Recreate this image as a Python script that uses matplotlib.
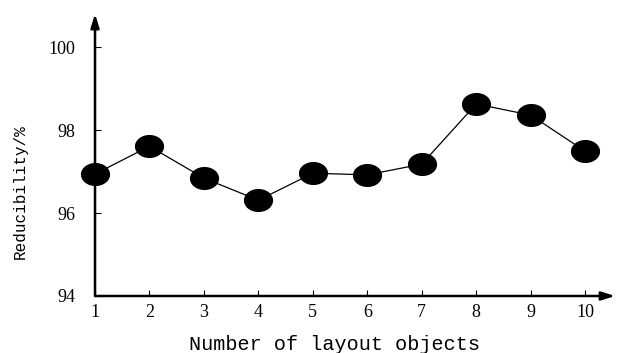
import numpy as np
import matplotlib.pyplot as plt
from matplotlib.path import Path

# DATA
layout_objects = [1, 2, 3, 4, 5, 6, 7, 8, 9, 10]
reducibility = [96.94, 97.61, 96.84, 96.31, 96.96, 96.92, 97.18, 98.63, 98.36, 97.49]
y_ticks = [94, 96, 98, 100]

# elliptical marker (wider than tall)
t = np.linspace(0, 2 * np.pi, 60)
ellipse = Path(np.column_stack([np.cos(t), 0.78 * np.sin(t)]), closed=True)

fig = plt.figure(figsize=(6.17, 3.53), dpi=100)
ax = fig.add_axes([0.154, 0.1615, 0.843, 0.799])

ax.plot(layout_objects, reducibility, color="black", lw=0.9,
        marker=ellipse, markersize=20, markerfacecolor="black",
        markeredgecolor="black", clip_on=False, zorder=3)

ax.set_xlim(1, 10.55)
ax.set_ylim(94, 100.8)

for s in ax.spines.values():
    s.set_visible(False)

# axes with arrows
ax.annotate("", xy=(1.0, 0), xytext=(0, 0), xycoords="axes fraction",
            arrowprops=dict(arrowstyle="-|>,head_length=0.8,head_width=0.25",
                            color="black", lw=1.8, shrinkA=0, shrinkB=0))
ax.annotate("", xy=(0, 1.0), xytext=(0, 0), xycoords="axes fraction",
            arrowprops=dict(arrowstyle="-|>,head_length=0.8,head_width=0.25",
                            color="black", lw=1.8, shrinkA=0, shrinkB=0))

ax.set_xticks(layout_objects)
ax.set_yticks(y_ticks)
ax.tick_params(direction="in", length=4, width=0.8, color="black")
ax.tick_params(axis="x", pad=6)
ax.tick_params(axis="y", pad=14)
for lab in ax.get_xticklabels() + ax.get_yticklabels():
    lab.set_fontfamily("Liberation Serif")
    lab.set_fontsize(13)

ax.set_xlabel("Number of layout objects", family="Liberation Mono",
              fontsize=14.5)
ax.set_ylabel("Reducibility/%", family="Liberation Mono", fontsize=11.5)
ax.xaxis.set_label_coords(0.46, -0.14)
ax.yaxis.set_label_coords(-0.129, 0.369)

fig.savefig("out.png", dpi=100)
